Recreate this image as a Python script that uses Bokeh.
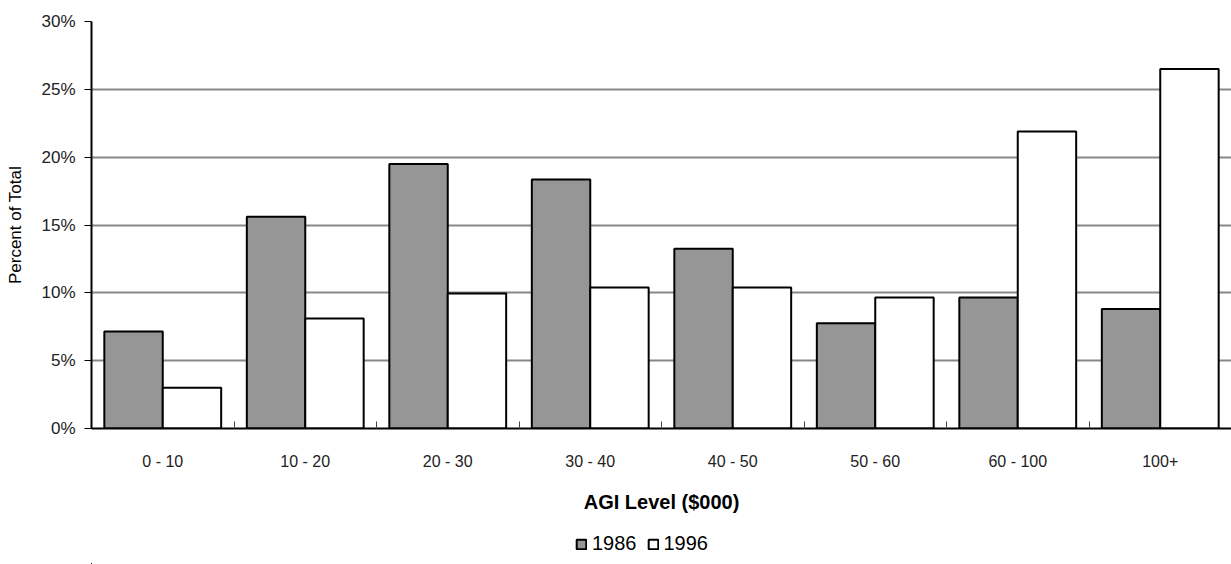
import numpy as np
from bokeh.plotting import figure
from bokeh.layouts import column
from bokeh.models import FixedTicker, Legend, LegendItem, ColumnDataSource
from bokeh.embed import file_html
from bokeh.resources import INLINE

categories = ["0 - 10", "10 - 20", "20 - 30", "30 - 40", "40 - 50", "50 - 60", "60 - 100", "100+"]
values_1986 = [7.15, 15.6, 19.5, 18.35, 13.25, 7.75, 9.65, 8.8]
values_1996 = [3.0, 8.1, 9.95, 10.4, 10.4, 9.65, 21.9, 26.5]
series_names = ["1986", "1996"]
y_ticks = [0, 5, 10, 15, 20, 25, 30]

FONT = "Liberation Sans"
n = len(categories)
centers = np.arange(n) + 0.5
bw = 0.41
fills = ["#969696", "white"]
offsets = [-bw / 2, bw / 2]
series_values = [values_1986, values_1996]

p = figure(width=1231, height=515, x_range=(0, n), y_range=(0, 30),
           output_backend="svg", toolbar_location=None,
           min_border_left=91, min_border_right=0, min_border_top=21, min_border_bottom=0)
p.outline_line_color = None
p.background_fill_color = "white"

for vals, off, fc in zip(series_values, offsets, fills):
    src = ColumnDataSource(dict(x=centers + off, top=vals))
    p.vbar(x="x", top="top", width=bw, source=src, fill_color=fc, line_color="black", line_width=2)

# grid
p.xgrid.grid_line_color = None
p.ygrid.ticker = FixedTicker(ticks=y_ticks)
p.ygrid.grid_line_color = "#878787"
p.ygrid.grid_line_width = 2

# y axis
p.yaxis.ticker = FixedTicker(ticks=y_ticks)
p.yaxis.major_label_overrides = {t: f"{t}%" for t in y_ticks}
p.yaxis.axis_line_color = "black"
p.yaxis.axis_line_width = 2
p.yaxis.major_tick_in = 0
p.yaxis.major_tick_out = 7
p.yaxis.major_tick_line_width = 1
p.yaxis.major_tick_line_color = "black"
p.yaxis.minor_tick_line_color = None
p.yaxis.major_label_standoff = 9
p.yaxis.major_label_text_font = FONT
p.yaxis.major_label_text_font_size = "17px"
p.yaxis.major_label_text_color = "#222222"
p.yaxis.axis_label = "Percent of Total"
p.yaxis.axis_label_text_font = FONT
p.yaxis.axis_label_text_font_style = "normal"
p.yaxis.axis_label_text_font_size = "17px"
p.yaxis.axis_label_text_color = "black"
p.yaxis.axis_label_standoff = 13

# x axis
p.xaxis.ticker = FixedTicker(ticks=list(centers), minor_ticks=list(range(1, n)))
p.xaxis.major_label_overrides = {float(c): lab for c, lab in zip(centers, categories)}
p.xaxis.axis_line_color = "black"
p.xaxis.axis_line_width = 2
p.xaxis.major_tick_line_color = None
p.xaxis.major_tick_in = 0
p.xaxis.major_tick_out = 0
p.xaxis.minor_tick_in = 7
p.xaxis.minor_tick_out = 0
p.xaxis.minor_tick_line_color = "#444444"
p.xaxis.minor_tick_line_width = 1
p.xaxis.major_label_standoff = 24
p.xaxis.major_label_text_font = FONT
p.xaxis.major_label_text_font_size = "16px"
p.xaxis.major_label_text_color = "#222222"
p.xaxis.axis_label = "AGI Level ($000)"
p.xaxis.axis_label_text_font = FONT
p.xaxis.axis_label_text_font_style = "bold"
p.xaxis.axis_label_text_font_size = "20px"
p.xaxis.axis_label_text_color = "black"
p.xaxis.axis_label_standoff = 18

# legend strip below the chart (its bars lie wholly outside its own visible ranges)
lf = figure(width=1231, height=49, x_range=(100, 101), y_range=(100, 101),
            x_axis_type=None, y_axis_type=None, output_backend="svg", toolbar_location=None,
            min_border=0)
lf.outline_line_color = None
lr = []
for vals, off, fc in zip(series_values, offsets, fills):
    lr.append(lf.vbar(x=centers + off, top=vals, width=bw, fill_color=fc,
                      line_color="black", line_width=2))
legend = Legend(items=[LegendItem(label=name, renderers=[r]) for name, r in zip(series_names, lr)],
                orientation="horizontal", location=(484, 9),
                label_text_font=FONT, label_text_font_size="20px", label_text_color="black",
                glyph_width=12, glyph_height=12, spacing=10, label_standoff=5,
                border_line_color=None, background_fill_alpha=0, padding=3, margin=0)
lf.add_layout(legend, "center")

layout = column(p, lf, spacing=0)
open("out.html", "w").write(file_html(layout, INLINE))
